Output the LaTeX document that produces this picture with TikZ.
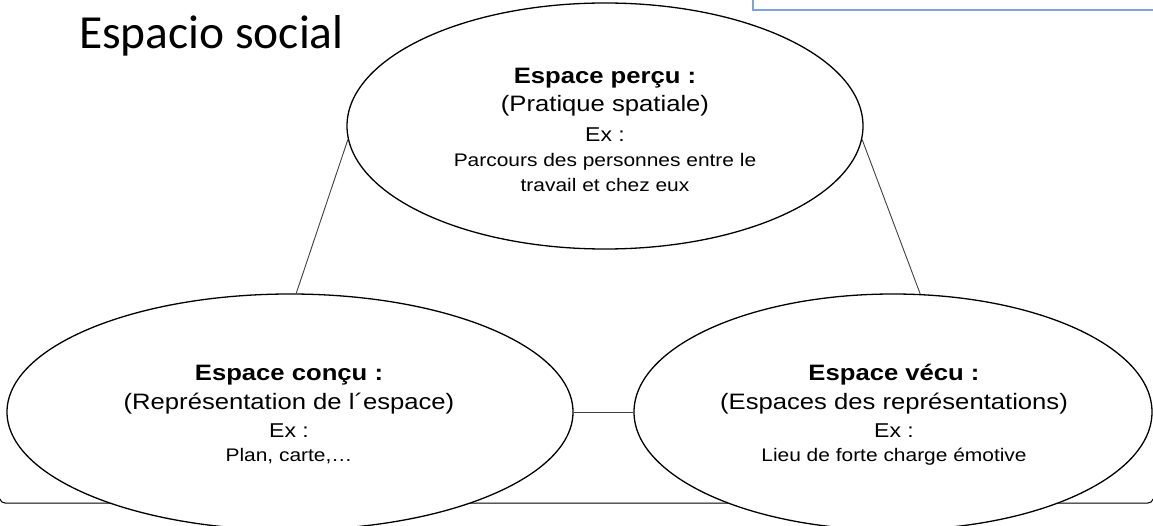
\documentclass[tikz,border=0pt]{standalone}
\usepackage{fontspec}
\usepackage{graphicx}
\usetikzlibrary{shapes.geometric}
\newfontfamily\arialf{Liberation Sans}
\newfontfamily\calibf{Carlito}
\newcommand{\hx}[1]{\scalebox{1.15}[1]{#1}}
\definecolor{boxblue}{RGB}{125,163,220}
\tikzset{
  oval/.style={ellipse, draw=black, line width=1.3pt, fill=white, inner sep=0pt},
  link/.style={draw=black!75, line width=0.9pt},
  txt/.style={anchor=base, inner sep=0pt},
  headt/.style={txt, font=\arialf\bfseries\fontsize{22.3}{26}\selectfont},
  subt/.style={txt, font=\arialf\fontsize{22.3}{26}\selectfont},
  ext/.style={txt, font=\arialf\fontsize{20}{24}\selectfont},
  exlt/.style={txt, font=\arialf\fontsize{18.2}{22}\selectfont},
}
\begin{document}
\begin{tikzpicture}[x=1pt,y=-1pt]
\useasboundingbox (0,0) rectangle (1153,526);
\clip (0,0) rectangle (1153,526);
\fill[white] (0,0) rectangle (1153,526);
% frame line at the bottom
\draw[black, line width=1pt] (0,499) to[out=-80,in=180] (5,503) -- (1148,503) to[out=0,in=-100] (1153,499);
% partly visible box at top right
\draw[boxblue, line width=1.4pt, fill=white] (753,-40) rectangle (1170,10);
% title
\node[anchor=base west, inner sep=0pt, font=\calibf\fontsize{47.5}{54}\selectfont] (title) at (79,49) {Espacio social};
% ellipses
\node[oval, minimum width=516pt, minimum height=246pt] (top) at (605,126) {};
\node[oval, minimum width=566pt, minimum height=236pt] (left) at (290,412) {};
\node[oval, minimum width=518pt, minimum height=236pt] (right) at (893,412) {};
% connectors
\draw[link] (top.183) -- (left.87);
\draw[link] (top.-3) -- (right.77);
\draw[link] (left.east) -- (right.west);
% top texts
\node[headt] (a1) at (605,84) {\hx{Espace perçu :}};
\node[subt] (a2) at (605,112) {\hx{(Pratique spatiale)}};
\node[ext] (a3) at (605,142) {\hx{Ex :}};
\node[exlt] (a4) at (605,167) {\hx{Parcours des personnes entre le}};
\node[exlt] (a5) at (605,192) {\hx{travail et chez eux}};
% left texts
\node[headt] (b1) at (289,380) {\hx{Espace conçu :}};
\node[subt] (b2) at (289,409) {\hx{(Représentation de l´espace)}};
\node[ext] (b3) at (289,437) {\hx{Ex :}};
\node[exlt] (b4) at (289,461) {\hx{Plan, carte,…}};
% right texts
\node[headt] (c1) at (894,380) {\hx{Espace vécu :}};
\node[subt] (c2) at (894,409) {\hx{(Espaces des représentations)}};
\node[ext] (c3) at (894,437) {\hx{Ex :}};
\node[exlt] (c4) at (894,461) {\hx{Lieu de forte charge émotive}};
\end{tikzpicture}
\end{document}
